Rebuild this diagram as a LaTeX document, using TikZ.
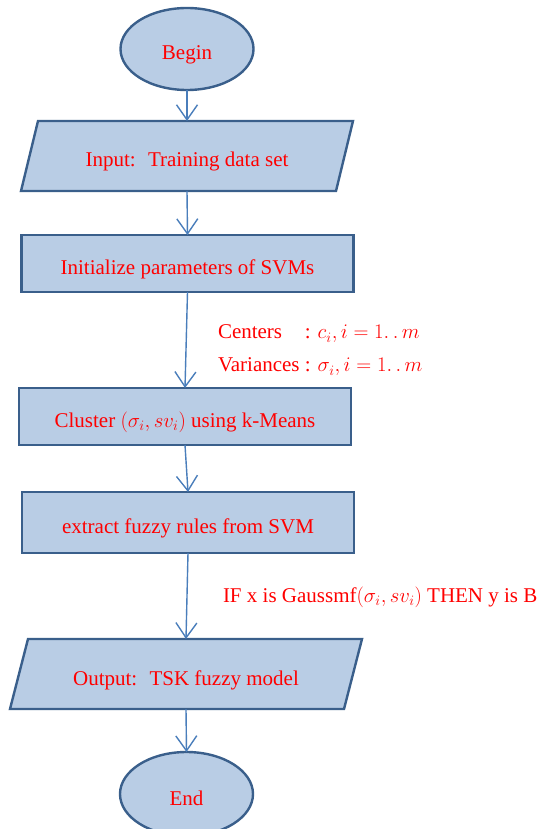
\documentclass[tikz,border=0pt]{standalone}
\usepackage{fontspec}
\usepackage{calc}
\setmainfont{Liberation Serif}
\usetikzlibrary{shapes.geometric,arrows.meta,backgrounds}
\definecolor{boxfill}{HTML}{B9CDE5}
\definecolor{boxline}{HTML}{3A5F8B}
\definecolor{flowline}{HTML}{4A7EBB}
\tikzset{
  every node/.style={font=\fontsize{21}{25}\selectfont, text=red, inner sep=0pt, outer sep=0pt},
  shapebase/.style={draw=boxline, fill=boxfill, line width=2.4pt, line join=miter},
  lowtext/.style={text height=26pt, text depth=4pt},
  terminal/.style={shapebase, ellipse, minimum width=133pt, minimum height=82pt, lowtext},
  procbox/.style={shapebase, rectangle, minimum width=332pt, minimum height=57pt, lowtext},
  iobox/.style={rectangle, minimum height=70pt, lowtext},
  note/.style={anchor=west, align=left},
  flow/.style={draw=flowline, line width=1.4pt,
               -{Straight Barb[length=15pt, width=21pt, line width=1.4pt]}}
}
% parallelogram outline behind a rectangular io node, slanted by #2
\newcommand{\ioshape}[2]{%
  \begin{scope}[on background layer]
    \path[shapebase] ([xshift=#2]#1.north west) -- (#1.north east)
      -- ([xshift=-#2]#1.south east) -- (#1.south west) -- cycle;
  \end{scope}}
\begin{document}
\begin{tikzpicture}[x=1pt, y=-1pt]
  \useasboundingbox (0,0) rectangle (546,829);
  \begin{scope}
    \clip (0,0) rectangle (546,829);
    \node[terminal] (begin) at (187,49) {Begin};
    \node[iobox, minimum width=332pt] (input) at (187,156) {Input: \ Training data set};
    \node[procbox] (init) at (187.5,263.5) {Initialize parameters of SVMs};
    \node[procbox] (cluster) at (185,416.5) {Cluster $(\sigma_i, sv_i)$ using k-Means};
    \node[procbox, minimum height=61pt] (extract) at (188,522.5) {extract fuzzy rules from SVM};
    \node[iobox, minimum width=352pt] (output) at (186,674) {Output: \ TSK fuzzy model};
    \node[terminal, minimum height=84pt] (end) at (186.5,794) {End};
    \ioshape{input}{17pt}
    \ioshape{output}{18pt}

    \node[note] (centers) at (218,334)
      {\makebox[\widthof{Variances}][l]{Centers} : $c_i, i = 1{.}\,{.}\,m$};
    \node[note] (variances) at (218,367) {Variances : $\sigma_i, i = 1{.}\,{.}\,m$};
    \node[note] (rule) at (223,597)
      {IF x is Gaussmf$(\sigma_i, sv_i)$ THEN y is B};

    \draw[flow] (begin.south) -- (input.north);
    \draw[flow] (input.south) -- (init.north);
    \draw[flow] (init.south) -- (cluster.north);
    \draw[flow] (cluster.south) -- (extract.north);
    \draw[flow] (extract.south) -- (output.north);
    \draw[flow] (output.south) -- (end.north);
  \end{scope}
\end{tikzpicture}
\end{document}
